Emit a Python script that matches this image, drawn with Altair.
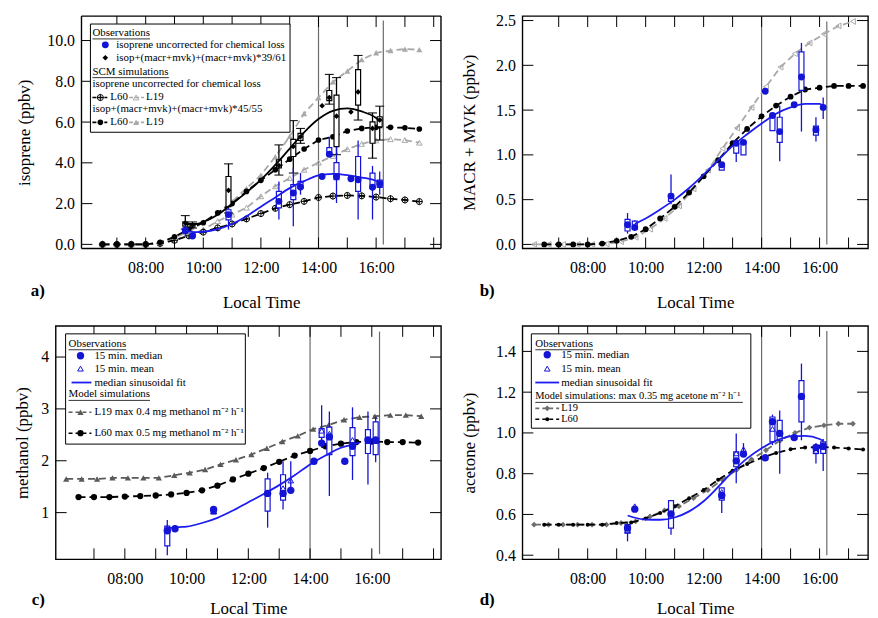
import altair as alt
import pandas as pd

FONT = "Liberation Serif"
BLUE = "#1414d6"
BLUE_FIT = "#1c1cf2"
GRAY_LIGHT = "#a9a9a9"
GRAY_DARK = "#5a5a5a"
GRAY_MID = "#6e6e6e"
VLINE = "#6b6b6b"
DASH = [7, 4]

X_DOMAIN_A = [5.047, 18.08]   # panel a view starts 26 px left of its frame
X_DOMAIN_C = [5.92, 18.08]
X_DOMAIN_R = [5.92, 17.5]
HOUR_TICKS = [7, 8, 9, 10, 11, 12, 13, 14, 15, 16, 17, 18]
LABEL_HOURS = [8, 10, 12, 14, 16]

T_MODEL = [6.5, 7.0, 7.5, 8.0, 8.5, 9.0, 9.5, 10.0, 10.5, 11.0, 11.5, 12.0,
           12.5, 13.0, 13.5, 14.0, 14.5, 15.0, 15.5, 16.0, 16.5, 17.0, 17.5]
T_MODEL_B19 = [6.15, 6.65, 7.15, 7.65, 8.15, 8.65, 9.15, 9.65, 10.15, 10.65, 11.15, 11.65,
               12.15, 12.65, 13.15, 13.65, 14.15, 14.65, 15.15, 15.65, 16.15, 16.65, 17.15]
T_MODEL_C19 = [6.1, 6.6, 7.1, 7.6, 8.1, 8.6, 9.1, 9.6, 10.1, 10.6, 11.1, 11.6,
               12.1, 12.6, 13.1, 13.6, 14.1, 14.6, 15.1, 15.6, 16.1, 16.6, 17.1, 17.6]
T_MODEL_D19 = T_MODEL_B19
T_OBS = [9.375, 9.625, 10.875, 12.625, 13.125, 13.375, 14.125, 14.375, 14.625,
         15.125, 15.375, 15.875, 16.125]
VLINE_T = [14.0, 16.25]

# ---------------- panel a: isoprene ----------------
A_L60_CORR = [0, 0, 0, 0, 0.1, 0.37, 0.75, 1.06, 1.55, 2.0, 2.6, 3.14, 3.66, 4.18, 4.68,
              5.12, 5.28, 5.56, 5.69, 5.74, 5.74, 5.72, 5.66]
A_L60_UNC = [0, 0, 0, 0, 0.05, 0.2, 0.42, 0.6, 0.81, 1.0, 1.25, 1.51, 1.77, 1.95, 2.11,
             2.3, 2.37, 2.4, 2.38, 2.32, 2.24, 2.18, 2.1]
A_L19_CORR = [0, 0, 0, 0, 0.1, 0.35, 0.6, 1.1, 1.55, 2.1, 2.75, 3.4, 4.3, 5.3, 6.42,
              7.2, 7.97, 8.5, 9.06, 9.4, 9.51, 9.58, 9.55]
A_L19_UNC = [0, 0, 0, 0, 0.05, 0.2, 0.45, 0.73, 1.14, 1.46, 1.8, 2.36, 2.85, 3.25, 3.66,
             4.01, 4.34, 4.67, 4.93, 5.1, 5.16, 5.12, 4.99]
A_OBS_MED = [0.68, 0.41, 1.46, 2.11, 2.52, 2.81, 3.33, 4.42, 3.33, 3.22, 3.17, 2.8, 2.98]
A_OBS_Q1 = [0.55, 0.35, 1.2, 1.79, 2.2, 2.76, None, 4.39, 3.17, None, 2.6, 2.77, 2.8]
A_OBS_Q3 = [0.8, 0.5, 1.7, 2.6, 2.93, 3.09, None, 4.75, 4.01, None, 4.31, 3.5, 3.15]
A_OBS_LO = [0.4, 0.3, 0.73, 1.22, 0.89, 2.44, None, 4.39, 2.03, None, 1.22, 1.22, 2.44]
A_OBS_HI = [0.95, 0.6, 1.87, 3.09, 3.74, 3.5, None, 5.28, 4.8, None, 5.1, 3.85, 3.58]
A_COR_MED = [1.05, 0.95, 2.65, 3.87, 4.8, 5.28, 6.8, 7.2, 6.29, 6.5, 7.48, 5.69, 6.1]
A_COR_Q1 = [0.9, 0.85, 1.85, 3.75, 4.31, 5.1, None, 7.05, 4.8, None, 6.83, 4.96, 5.77]
A_COR_Q3 = [1.1, 1.0, 3.33, 4.15, 5.15, 5.45, None, 7.55, 7.32, None, 8.57, 6.01, 6.26]
A_COR_LO = [0.75, 0.8, 1.54, 3.4, 3.5, 4.96, None, 6.88, 4.4, None, 6.1, 4.23, 5.12]
A_COR_HI = [1.41, 1.1, 3.95, 4.88, 6.07, 5.69, None, 8.34, 8.18, None, 9.27, 6.45, 6.78]
A_FIT_T = [9.38, 9.75, 10.0, 10.5, 11.0, 11.5, 12.0, 12.5, 13.0, 13.5, 14.0, 14.5, 15.0,
           15.5, 16.0, 16.15]
A_FIT_COR = [1.0, 1.0, 1.1, 1.45, 2.0, 2.55, 3.17, 3.9, 4.7, 5.5, 6.15, 6.55, 6.67, 6.52,
             6.2, 6.02]
A_FIT_UNC = [0.68, 0.6, 0.62, 0.75, 1.0, 1.38, 1.85, 2.3, 2.76, 3.1, 3.38, 3.46, 3.4, 3.28,
             3.12, 3.0]

# ---------------- panel b: MACR + MVK ----------------
B_L60 = [0, 0, 0, 0, 0.01, 0.04, 0.085, 0.17, 0.29, 0.42, 0.58, 0.76, 0.94, 1.13, 1.29,
         1.43, 1.55, 1.65, 1.73, 1.75, 1.77, 1.77, 1.77]
B_L19 = [0, 0, 0, 0, 0, 0.005, 0.03, 0.08, 0.17, 0.29, 0.43, 0.62, 0.83, 1.07, 1.3, 1.53,
         1.76, 1.98, 2.13, 2.25, 2.35, 2.44, 2.49]
B_MED = [0.22, 0.19, 0.54, 0.89, 1.13, 1.14, 1.71, 1.44, 1.26, 1.56, 1.87, 1.28, 1.53]
B_Q1 = [0.15, 0.17, 0.48, 0.83, 1.02, 1.0, None, 1.27, 1.14, None, 1.72, 1.22, None]
B_Q3 = [0.28, 0.26, 0.56, 0.9, 1.12, 1.15, None, 1.44, 1.42, None, 2.15, 1.32, None]
B_LO = [0.12, 0.15, 0.45, None, 0.92, None, None, None, 0.93, None, 1.26, 1.15, 1.4]
B_HI = [0.35, 0.27, 0.78, None, 1.16, None, None, None, 1.55, None, 2.25, 1.42, 1.64]
B_FIT_T = [9.63, 10.0, 10.5, 11.0, 11.5, 12.0, 12.5, 13.0, 13.5, 14.0, 14.5, 15.0, 15.5,
           16.0, 16.12]
B_FIT = [0.23, 0.29, 0.39, 0.5, 0.63, 0.78, 0.94, 1.1, 1.23, 1.35, 1.46, 1.53, 1.57, 1.57,
         1.55]

# ---------------- panel c: methanol ----------------
C_L19 = [1.65, 1.65, 1.65, 1.67, 1.67, 1.67, 1.67, 1.72, 1.77, 1.83, 1.93, 2.02, 2.12, 2.24,
         2.37, 2.48, 2.61, 2.69, 2.79, 2.84, 2.86, 2.88, 2.88, 2.86]
C_L60 = [1.3, 1.3, 1.3, 1.31, 1.32, 1.33, 1.35, 1.38, 1.43, 1.52, 1.64, 1.75, 1.86, 1.98,
         2.1, 2.19, 2.28, 2.33, 2.36, 2.37, 2.36, 2.36, 2.35]
C_MED = [0.65, 0.69, 1.06, 1.37, 1.37, 1.43, 1.99, 2.34, 2.46, 1.99, 2.28, 2.4, 2.4]
C_MEAN = [0.7, 0.7, 1.02, 1.38, 1.47, 1.62, 1.99, 2.58, 2.52, 2.0, 2.4, 2.38, 2.38]
C_Q1 = [0.36, None, 0.98, 1.03, 1.24, None, None, 2.45, 2.12, None, 2.1, 2.14, 2.12]
C_Q3 = [0.74, None, 1.08, 1.65, 1.73, None, None, 2.62, 2.65, None, 2.64, 2.6, 2.75]
C_LO = [0.18, None, None, 0.71, 1.06, 1.4, None, 2.25, 1.32, None, 1.63, 1.54, 1.97]
C_HI = [0.86, None, None, 1.77, 1.99, 1.99, None, 3.07, 2.95, None, 3.03, 2.95, 2.85]
C_FIT_T = [9.38, 9.75, 10.0, 10.5, 11.0, 11.5, 12.0, 12.5, 13.0, 13.5, 14.0, 14.5, 15.0,
           15.5, 15.6]
C_FIT = [0.7, 0.72, 0.73, 0.8, 0.9, 1.04, 1.2, 1.36, 1.53, 1.72, 1.93, 2.1, 2.25, 2.33, 2.35]

# ---------------- panel d: acetone ----------------
D_L19 = [0.55, 0.55, 0.55, 0.55, 0.55, 0.55, 0.558, 0.566, 0.59, 0.62, 0.64, 0.68, 0.72,
         0.77, 0.82, 0.87, 0.915, 0.964, 1.0, 1.026, 1.037, 1.045, 1.045]
D_L60 = [0.55, 0.55, 0.55, 0.55, 0.55, 0.558, 0.56, 0.58, 0.607, 0.64, 0.68, 0.72, 0.77,
         0.815, 0.847, 0.878, 0.902, 0.92, 0.928, 0.932, 0.928, 0.924, 0.919]
D_MED = [0.533, 0.626, 0.602, 0.693, 0.863, 0.896, 0.878, 1.055, 0.997, 0.977, 1.179, 0.928,
         0.935]
D_MEAN = [0.52, 0.64, 0.6, 0.71, 0.9, 0.92, 0.88, 1.02, 1.0, 0.98, 1.18, 0.91, 0.93]
D_Q1 = [0.51, None, 0.533, 0.67, 0.834, None, None, 0.956, 0.964, None, 1.054, 0.9, 0.9]
D_Q3 = [0.55, None, 0.668, 0.73, 0.907, None, None, 1.078, 1.062, None, 1.257, 0.94, 0.956]
D_LO = [0.468, None, 0.5, 0.607, 0.753, 0.9, None, 0.94, 0.8, None, 0.964, 0.85, 0.813]
D_HI = [0.558, None, 0.67, 0.73, 0.997, 0.95, None, 1.09, 1.11, None, 1.34, 0.95, 0.97]
D_FIT_T = [9.38, 9.6, 10.0, 10.5, 11.0, 11.5, 12.0, 12.5, 13.0, 13.5, 14.0, 14.5, 15.0,
           15.5, 16.0, 16.12]
D_FIT = [0.595, 0.585, 0.575, 0.574, 0.585, 0.615, 0.665, 0.735, 0.81, 0.875, 0.925, 0.962,
         0.983, 0.985, 0.97, 0.962]

OPLUS = "M-1,0L-0.7,0.7L0,1L0.7,0.7L1,0L0.7,-0.7L0,-1L-0.7,-0.7ZM-1,0L1,0M0,-1L0,1"
DUMMY = pd.DataFrame({"d": [0]})


def pairs(t, a, b=None):
    rows = []
    for i, ti in enumerate(t):
        if a[i] is None or (b is not None and b[i] is None):
            continue
        r = {"t": ti, "v": a[i]}
        if b is not None:
            r["v2"] = b[i]
        rows.append(r)
    return pd.DataFrame(rows)


def L_text(x, y, s, size=11, weight="normal"):
    return alt.Chart(DUMMY).mark_text(text=s, align="left", baseline="middle", font=FONT,
                                      fontSize=size, fontWeight=weight, color="black").encode(
        x=alt.value(x), y=alt.value(y))


def L_rule(x1, x2, y, color="black", dash=None, width=1.0):
    kw = dict(color=color, strokeWidth=width)
    if dash:
        kw["strokeDash"] = dash
    return alt.Chart(DUMMY).mark_rule(**kw).encode(x=alt.value(x1), x2=alt.value(x2),
                                                   y=alt.value(y))


def L_vrule(x, y1, y2, color="black", width=1.0):
    return alt.Chart(DUMMY).mark_rule(color=color, strokeWidth=width).encode(
        x=alt.value(x), y=alt.value(y1), y2=alt.value(y2))


def L_point(x, y, shape, filled, size, color):
    return alt.Chart(DUMMY).mark_point(shape=shape, filled=filled, size=size, color=color,
                                       opacity=1, strokeWidth=1).encode(x=alt.value(x),
                                                                        y=alt.value(y))


def L_box(x1, x2, y1, y2):
    return alt.Chart(DUMMY).mark_rect(fill="white", stroke="black", strokeWidth=1).encode(
        x=alt.value(x1), x2=alt.value(x2), y=alt.value(y1), y2=alt.value(y2))


def underlined(x, y, s, w, size=11):
    return [L_text(x, y, s, size=size), L_rule(x, x + w, y + 6, width=0.8)]


def panel(cfg, series, legend):
    W, H, x0 = cfg["w"], cfg["h"], cfg.get("x0", 0)
    xaxis = dict(values=LABEL_HOURS,
                 labelExpr="(datum.value < 10 ? '0' : '') + datum.value + ':00'",
                 ticks=False, tickSize=0, domain=False, grid=False,
                 labelFont=FONT, labelFontSize=16, labelColor="black",
                 labelPadding=11, labelOverlap=False, labelFlush=False,
                 title="Local Time", titleFont=FONT, titleFontSize=17,
                 titleFontWeight="normal", titleColor="black", titlePadding=cfg["xtpad"])
    if x0:
        xaxis["titleX"] = x0 + (W - x0) / 2
    xe = alt.X("t:Q", scale=alt.Scale(domain=cfg["xdom"], nice=False, zero=False),
               axis=alt.Axis(**xaxis))
    yaxis = dict(values=cfg["yvals"], format=cfg["yfmt"], ticks=False,
                 tickSize=0, domain=False, grid=False, labelFont=FONT,
                 labelFontSize=16, labelColor="black", labelPadding=7,
                 labelOverlap=False,
                 title=cfg["ytitle"], titleFont=FONT, titleFontSize=17,
                 titleFontWeight="normal", titleColor="black", titlePadding=cfg["ytpad"])
    if x0:
        yaxis["offset"] = -x0
    ye = alt.Y("v:Q", scale=alt.Scale(domain=cfg["ydom"], nice=False, zero=False),
               axis=alt.Axis(**yaxis))
    layers = []
    layers.append(alt.Chart(pd.DataFrame({"t": [VLINE_T[0]]})).mark_rule(
        color=VLINE, strokeWidth=1.2).encode(x=xe))
    layers.append(alt.Chart(pd.DataFrame({"t": [VLINE_T[1]], "v": [cfg["vl2"][0]],
                                          "v2": [cfg["vl2"][1]]})).mark_rule(
        color=VLINE, strokeWidth=1.2).encode(x=xe, y=ye, y2="v2:Q"))
    xt = pd.DataFrame({"t": [h for h in HOUR_TICKS if h < cfg["xdom"][1]]})
    yt = pd.DataFrame({"v": cfg["yvals"]})
    tk = 11
    layers.append(alt.Chart(xt).mark_rule(color="black", strokeWidth=1).encode(
        x=xe, y=alt.value(H), y2=alt.value(H - tk)))
    layers.append(alt.Chart(xt).mark_rule(color="black", strokeWidth=1).encode(
        x=xe, y=alt.value(0), y2=alt.value(tk)))
    layers.append(alt.Chart(yt).mark_rule(color="black", strokeWidth=1).encode(
        y=ye, x=alt.value(x0), x2=alt.value(x0 + tk)))
    layers.append(alt.Chart(yt).mark_rule(color="black", strokeWidth=1).encode(
        y=ye, x=alt.value(W - tk), x2=alt.value(W)))

    for s in series:
        kind = s["kind"]
        if kind == "model":
            df = pairs(s["t"], s["v"])
            layers.append(alt.Chart(df).mark_line(color=s["color"], strokeDash=DASH,
                                                  strokeWidth=1.8).encode(x=xe, y=ye))
            layers.append(alt.Chart(df).mark_point(
                shape=s["shape"], filled=s["filled"], size=s["size"], color=s["color"],
                opacity=1, strokeWidth=1).encode(x=xe, y=ye))
        elif kind == "box":
            color = s["color"]
            wdf = pairs(s["t"], s["lo"], s["hi"])
            layers.append(alt.Chart(wdf).mark_rule(color=color, strokeWidth=1.3).encode(
                x=xe, y=ye, y2="v2:Q"))
            if s.get("caps"):
                cdf = pd.concat([pairs(s["t"], s["lo"]), pairs(s["t"], s["hi"])])
                layers.append(alt.Chart(cdf).mark_tick(orient="horizontal", size=9,
                                                       thickness=1, color=color,
                                                       opacity=1).encode(x=xe, y=ye))
            bdf = pairs(s["t"], s["q1"], s["q3"])
            layers.append(alt.Chart(bdf).mark_bar(size=5, fill="white", stroke=color,
                                                  strokeWidth=1.2).encode(
                x=xe, y=ye, y2="v2:Q"))
        elif kind == "points":
            df = pairs(s["t"], s["v"])
            layers.append(alt.Chart(df).mark_point(
                shape=s["shape"], filled=s["filled"], size=s["size"], color=s["color"],
                opacity=1, strokeWidth=1).encode(x=xe, y=ye))
        elif kind == "fit":
            df = pairs(s["t"], s["v"])
            layers.append(alt.Chart(df).mark_line(color=s["color"], strokeWidth=1.8,
                                                  interpolate="monotone").encode(x=xe, y=ye))
    if x0:
        # frame drawn by hand, as the view starts left of the frame
        layers += [L_vrule(x0, 0, H, width=1.4), L_vrule(W, 0, H, width=1.4),
                   L_rule(x0, W, 0, width=1.4), L_rule(x0, W, H, width=1.4)]
    layers.extend(legend)
    layers.append(L_text(cfg["tag"][0], cfg["tag"][1], cfg["tag"][2], size=17,
                         weight="bold"))
    ch = alt.layer(*layers).properties(width=W, height=H)
    if x0:
        ch = ch.properties(view=alt.ViewBackground(strokeOpacity=0))
    return ch


# ---------------- panel a ----------------
XA = 26
cfg_a = dict(w=388, h=234, x0=XA, xdom=X_DOMAIN_A, ydom=[-0.2, 11.2],
             yvals=[0, 2, 4, 6, 8, 10], yfmt=".1f", ytitle="isoprene (ppbv)", ytpad=13,
             xtpad=19, vl2=[0, 10.98], tag=(XA - 51, 277, "a)"))
series_a = [
    dict(kind="model", t=T_MODEL, v=A_L19_UNC, color=GRAY_LIGHT, shape="triangle-up",
         filled=False, size=32),
    dict(kind="model", t=T_MODEL, v=A_L60_UNC, color="black", shape=OPLUS, filled=False,
         size=40),
    dict(kind="model", t=T_MODEL, v=A_L19_CORR, color=GRAY_LIGHT, shape="triangle-up",
         filled=True, size=38),
    dict(kind="model", t=T_MODEL, v=A_L60_CORR, color="black", shape="circle", filled=True,
         size=32),
    dict(kind="box", t=T_OBS, q1=A_COR_Q1, q3=A_COR_Q3, lo=A_COR_LO, hi=A_COR_HI,
         color="black", caps=True),
    dict(kind="box", t=T_OBS, q1=A_OBS_Q1, q3=A_OBS_Q3, lo=A_OBS_LO, hi=A_OBS_HI,
         color=BLUE),
    dict(kind="fit", t=A_FIT_T, v=A_FIT_COR, color="black"),
    dict(kind="fit", t=A_FIT_T, v=A_FIT_UNC, color=BLUE_FIT),
    dict(kind="points", t=T_OBS, v=A_COR_MED, color="black", shape="diamond", filled=True,
         size=32),
    dict(kind="points", t=T_OBS, v=A_OBS_MED, color=BLUE, shape="circle", filled=True,
         size=48),
]
legend_a = [L_box(XA + 9, XA + 210, 8, 117)]
legend_a += underlined(XA + 11, 17, "Observations", 58)
legend_a += [L_point(XA + 24, 29, "circle", True, 48, BLUE),
             L_text(XA + 35, 29, "isoprene uncorrected for chemical loss"),
             L_point(XA + 24, 42, "diamond", True, 32, "black"),
             L_text(XA + 35, 42, "isop+(macr+mvk)+(macr+mvk)*39/61")]
legend_a += underlined(XA + 11, 56, "SCM simulations", 77)
legend_a += [L_text(XA + 11, 68, "isoprene uncorrected for chemical loss"),
             L_rule(XA + 11, XA + 26, 82, "black", [4, 2], 1.6),
             L_point(XA + 19, 82, OPLUS, False, 40, "black"),
             L_text(XA + 29, 82, "L60"),
             L_rule(XA + 48, XA + 63, 82, GRAY_LIGHT, [4, 2], 1.6),
             L_point(XA + 55, 82, "triangle-up", False, 32, GRAY_LIGHT),
             L_text(XA + 65, 82, "L19"),
             L_text(XA + 11, 94, "isop+(macr+mvk)+(macr+mvk)*45/55"),
             L_rule(XA + 11, XA + 26, 107, "black", [4, 2], 1.6),
             L_point(XA + 19, 107, "circle", True, 32, "black"),
             L_text(XA + 29, 107, "L60"),
             L_rule(XA + 48, XA + 63, 107, GRAY_LIGHT, [4, 2], 1.6),
             L_point(XA + 55, 107, "triangle-up", True, 38, GRAY_LIGHT),
             L_text(XA + 65, 107, "L19")]
chart_a = panel(cfg_a, series_a, legend_a)

# ---------------- panel b ----------------
cfg_b = dict(w=348, h=234, xdom=X_DOMAIN_R, ydom=[-0.045, 2.55],
             yvals=[0, 0.5, 1.0, 1.5, 2.0, 2.5], yfmt=".1f", ytitle="MACR + MVK (ppbv)",
             ytpad=17, xtpad=19, vl2=[0, 2.49], tag=(-43, 277, "b)"))
series_b = [
    dict(kind="model", t=T_MODEL_B19, v=B_L19, color=GRAY_LIGHT, shape="triangle-left",
         filled=False, size=34),
    dict(kind="model", t=T_MODEL, v=B_L60, color="black", shape="circle", filled=True,
         size=34),
    dict(kind="box", t=T_OBS, q1=B_Q1, q3=B_Q3, lo=B_LO, hi=B_HI, color=BLUE),
    dict(kind="fit", t=B_FIT_T, v=B_FIT, color=BLUE_FIT),
    dict(kind="points", t=T_OBS, v=B_MED, color=BLUE, shape="circle", filled=True, size=48),
]
chart_b = panel(cfg_b, series_b, [])

# ---------------- panel c ----------------
cfg_c = dict(w=388, h=235, xdom=X_DOMAIN_C, ydom=[0.1, 4.6], yvals=[1, 2, 3, 4], yfmt="d",
             ytitle="methanol (ppbv)", ytpad=9, xtpad=15, vl2=[0.2, 4.49],
             tag=(-24, 276, "c)"))
series_c = [
    dict(kind="model", t=T_MODEL_C19, v=C_L19, color=GRAY_DARK, shape="triangle-up",
         filled=True, size=40),
    dict(kind="model", t=T_MODEL, v=C_L60, color="black", shape="circle", filled=True,
         size=40),
    dict(kind="box", t=T_OBS, q1=C_Q1, q3=C_Q3, lo=C_LO, hi=C_HI, color=BLUE),
    dict(kind="fit", t=C_FIT_T, v=C_FIT, color=BLUE_FIT),
    dict(kind="points", t=T_OBS, v=C_MEAN, color=BLUE, shape="triangle-up", filled=False,
         size=32),
    dict(kind="points", t=T_OBS, v=C_MED, color=BLUE, shape="circle", filled=True, size=55),
]
legend_c = [L_box(10, 191, 8, 119)]
legend_c += underlined(13, 18, "Observations", 58)
legend_c += [L_point(25, 30, "circle", True, 55, BLUE),
             L_text(39, 30, "15 min. median"),
             L_point(25, 43, "triangle-up", False, 32, BLUE),
             L_text(39, 43, "15 min. mean"),
             L_rule(16, 36, 57, BLUE_FIT, None, 1.8),
             L_text(39, 57, "median sinusoidal fit")]
legend_c += underlined(13, 69, "Model simulations", 82)
legend_c += [L_rule(13, 36, 87, GRAY_DARK, [4, 3], 1.6),
             L_point(25, 87, "triangle-up", True, 40, GRAY_DARK),
             L_text(39, 87, "L19 max 0.4 mg methanol m\u207b\u00b2 h\u207b\u00b9"),
             L_rule(13, 36, 108, "black", [4, 3], 1.6),
             L_point(25, 108, "circle", True, 40, "black"),
             L_text(39, 108, "L60 max 0.5 mg methanol m\u207b\u00b2 h\u207b\u00b9")]
chart_c = panel(cfg_c, series_c, legend_c)

# ---------------- panel d ----------------
cfg_d = dict(w=348, h=235, xdom=X_DOMAIN_R, ydom=[0.38, 1.525],
             yvals=[0.4, 0.6, 0.8, 1.0, 1.2, 1.4], yfmt=".1f", ytitle="acetone (ppbv)",
             ytpad=17, xtpad=15, vl2=[0.4, 1.5], tag=(-43, 276, "d)"))
series_d = [
    dict(kind="model", t=T_MODEL_D19, v=D_L19, color=GRAY_MID, shape="diamond",
         filled=True, size=34),
    dict(kind="model", t=T_MODEL, v=D_L60, color="black", shape="circle", filled=True,
         size=16),
    dict(kind="box", t=T_OBS, q1=D_Q1, q3=D_Q3, lo=D_LO, hi=D_HI, color=BLUE),
    dict(kind="fit", t=D_FIT_T, v=D_FIT, color=BLUE_FIT),
    dict(kind="points", t=T_OBS, v=D_MEAN, color=BLUE, shape="triangle-up", filled=False,
         size=32),
    dict(kind="points", t=T_OBS, v=D_MED, color=BLUE, shape="circle", filled=True, size=55),
]
legend_d = [L_box(9, 230, 8, 103)]
legend_d += underlined(13, 18, "Observations", 58)
legend_d += [L_point(25, 29, "circle", True, 55, BLUE),
             L_text(39, 29, "15 min. median"),
             L_point(25, 43, "triangle-up", False, 32, BLUE),
             L_text(39, 43, "15 min. mean"),
             L_rule(13, 37, 57, BLUE_FIT, None, 1.8),
             L_text(39, 57, "median sinusoidal fit")]
legend_d += underlined(13, 71, "Model simulations: max 0.35 mg acetone m\u207b\u00b2 h\u207b\u00b9",
                       209, size=10.5)
legend_d += [L_rule(13, 37, 83, GRAY_MID, [4, 3], 1.6),
             L_point(25, 83, "diamond", True, 34, GRAY_MID),
             L_text(39, 83, "L19", size=10.5),
             L_rule(13, 37, 94, "black", [4, 3], 1.6),
             L_point(25, 94, "circle", True, 16, "black"),
             L_text(39, 94, "L60", size=10.5)]
chart_d = panel(cfg_d, series_d, legend_d)

chart = alt.concat(chart_a, chart_b, chart_c, chart_d, columns=2,
                   spacing={"row": 13, "column": 17}).properties(
    padding={"left": 5, "top": 1, "right": 0, "bottom": 0},
    background="white",
).configure_view(stroke="black", strokeWidth=1.4)

chart.save("out.html", embed_options={"renderer": "svg", "actions": False})
